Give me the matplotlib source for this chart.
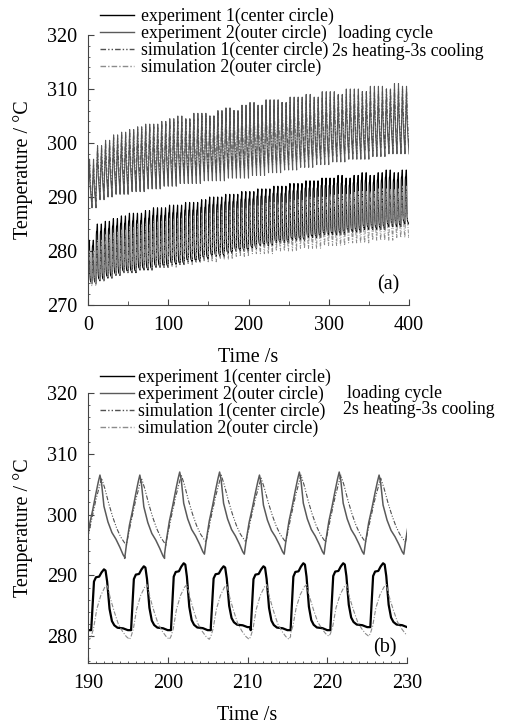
import numpy as np
import matplotlib.pyplot as plt
from matplotlib.ticker import MultipleLocator

plt.rcParams['font.family'] = ['Liberation Serif', 'DejaVu Serif']

# legend labels
labels = ['experiment 1(center circle)', 'experiment 2(outer circle)',
          'simulation 1(center circle)', 'simulation 2(outer circle)']
note_1 = 'loading cycle'
note_2 = '2s heating-3s cooling'

period = 5.0

# one loading cycle: time inside cycle [s] and
# fraction of the way from trough to peak
exp1_phase = [0.0, 0.15, 0.35, 0.6, 1.0, 1.3, 1.6, 1.8, 2.0, 2.3, 2.6, 2.9, 3.3, 4.0, 4.6, 5.0]
exp1_frac = [0.0, 0.35, 0.8, 0.87, 0.88, 0.95, 1.0, 0.98, 0.8, 0.35, 0.15, 0.08, 0.04, 0.03, 0.0, 0.0]
exp2_phase = [0.0, 0.2, 0.6, 1.0, 1.4, 1.7, 1.9, 2.1, 2.4, 2.9, 3.4, 3.9, 4.4, 4.8, 5.0]
exp2_frac = [0.0, 0.15, 0.4, 0.58, 0.78, 0.92, 1.0, 0.9, 0.62, 0.43, 0.3, 0.22, 0.12, 0.03, 0.0]
sim1_phase = [0.0, 0.6, 1.2, 1.9, 2.3, 2.8, 3.3, 3.8, 4.3, 4.8, 5.0]
sim1_frac = [0.0, 0.35, 0.68, 1.0, 0.85, 0.62, 0.42, 0.25, 0.12, 0.03, 0.0]
sim2_phase = [0.0, 0.3, 0.7, 1.2, 1.7, 2.0, 2.4, 2.9, 3.4, 3.9, 4.4, 4.8, 5.0]
sim2_frac = [0.05, 0.2, 0.55, 0.8, 0.95, 1.0, 0.75, 0.5, 0.28, 0.15, 0.05, 0.0, 0.05]

# panel (a): peaks / troughs per 10 s block (two cycles each), 0-400 s
a_exp1_peak = [282, 285, 285.5, 286, 286.5, 287, 287, 287.5, 288, 288,
               288.5, 288.5, 289, 289, 289.5, 290, 290, 290.5, 290.5, 291,
               291, 291.5, 291.5, 292, 292, 292.5, 292.5, 293, 293, 293.5,
               293.5, 294, 293.5, 294, 294.5, 294, 294.5, 295, 294.5, 295]
a_exp1_trough = [274, 274.5, 275, 275.5, 276, 276, 276.5, 276.5, 277, 277,
                 277.5, 277.5, 278, 278, 278.5, 279, 279, 279.5, 280, 280,
                 280.5, 281, 281, 281.5, 281.5, 282, 282, 282.5, 282.5, 283,
                 283, 283, 283.5, 283.5, 284, 284, 284, 284.5, 284.5, 285]
a_exp2_peak = [297, 299.5, 300.5, 301.5, 302, 302.5, 303, 303.5, 303.5, 304,
               304.5, 305, 304.5, 305.5, 305.5, 305, 306, 306.5, 306, 307,
               307.5, 307, 308, 308, 307.5, 308.5, 308.5, 309, 308.5, 309.5,
               309.5, 309, 310, 310, 309.5, 310.5, 310.5, 310, 311, 310.5]
a_exp2_trough = [288, 289.5, 290, 290.5, 290.5, 291, 291, 291.5, 291.5, 292,
                 292, 292.5, 292.5, 292.5, 293, 293, 293, 293.5, 293.5, 293.5,
                 294, 294, 294.5, 294.5, 295, 295, 295.5, 295.5, 296, 296,
                 296.5, 296.5, 297, 297, 297, 297.5, 297.5, 298, 298, 298]
a_sim1_peak = [296, 299, 300, 301, 301.5, 302, 302.5, 303, 303, 303.5,
               304, 304, 304.5, 304.5, 305, 305, 305.5, 305.5, 306, 306,
               306.5, 306.5, 307, 307, 307.5, 307.5, 308, 308, 308, 308.5,
               308.5, 309, 309, 309, 309.5, 309.5, 309.5, 310, 310, 310]
a_sim1_trough = [289, 291, 291.5, 292, 292.5, 292.5, 293, 293, 293.5, 293.5,
                 293.5, 294, 294, 294, 294.5, 294.5, 294.5, 295, 295, 295,
                 295.5, 295.5, 296, 296, 296, 296.5, 296.5, 297, 297, 297.5,
                 297.5, 298, 298, 298, 298.5, 298.5, 299, 299, 299, 299.5]
a_sim2_peak = [280, 282, 283, 283.5, 284, 284.5, 285, 285, 285.5, 285.5,
               286, 286, 286.5, 286.5, 287, 287, 287.5, 287.5, 288, 288,
               288.5, 288.5, 289, 289, 289, 289.5, 289.5, 290, 290, 290,
               290.5, 290.5, 290.5, 291, 291, 291, 291.5, 291.5, 291.5, 292]
a_sim2_trough = [273.5, 274.5, 275, 275.5, 276, 276, 276.5, 276.5, 277, 277,
                 277, 277.5, 277.5, 278, 278, 278, 278.5, 278.5, 279, 279,
                 279.5, 279.5, 279.5, 280, 280, 280, 280.5, 280.5, 280.5, 281,
                 281, 281, 281.5, 281.5, 281.5, 282, 282, 282, 282.5, 282.5]

# panel (b): first cycle start [s] and per-cycle peaks / troughs, 190-230 s
b_exp1_start = 185.4
b_exp1_peak = [290.5, 291, 291.5, 292, 291.5, 291.5, 292, 292, 292]
b_exp1_trough = [281, 281, 281, 281, 281.5, 281, 281, 281.5, 281.5]
b_exp2_start = 184.6
b_exp2_peak = [306, 306.5, 306.5, 307, 307, 306.5, 307, 307, 306.5, 306.5]
b_exp2_trough = [293, 293, 292.8, 293.5, 293.5, 293.5, 293.5, 293.5, 293.5, 293.5]
b_sim1_start = 184.8
b_sim1_peak = [305.5, 306, 306, 306.5, 306.5, 306, 306.5, 306.5, 306, 306]
b_sim1_trough = [295, 295, 295, 295.5, 295.5, 295.5, 295.5, 295.5, 295.5, 295.5]
b_sim2_start = 185.4
b_sim2_peak = [288, 288.5, 288.5, 288.5, 288.5, 288.5, 288.5, 288.5, 288.5]
b_sim2_trough = [279.5, 279.5, 279.5, 279.5, 279.5, 279.5, 280, 280, 280]


def build(start, phase, frac, peaks, troughs):
    phase = np.asarray(phase)
    frac = np.asarray(frac)
    t, T = [], []
    for k, (pk, tr) in enumerate(zip(peaks, troughs)):
        t.append(start + k * period + phase)
        T.append(tr + frac * (pk - tr))
    return np.concatenate(t), np.concatenate(T)


styles = [dict(color='black', ls='-'),
          dict(color='#5a5a5a', ls='-'),
          dict(color='#505050', ls=(0, (4, 1.5, 1, 1.5, 1, 1.5))),
          dict(color='#8c8c8c', ls=(0, (4, 1.5, 1, 1.5)))]


def style_axes(ax):
    for s in ['top', 'right']:
        ax.spines[s].set_visible(False)
    for s in ['left', 'bottom']:
        ax.spines[s].set_color('#444444')
        ax.spines[s].set_linewidth(0.8)
    ax.tick_params(which='both', direction='in', labelsize=14.5, pad=8, color='#444444')
    ax.tick_params(which='major', length=4, width=0.8)
    ax.tick_params(which='minor', length=1.5, width=0.6)
    ax.yaxis.set_major_locator(MultipleLocator(10))
    ax.yaxis.set_minor_locator(MultipleLocator(2))
    ax.set_xlabel('Time /s', fontsize=14.5, labelpad=9)
    ax.set_ylabel('Temperature / °C', fontsize=14.5, labelpad=10)


def add_legend(ax, handles, top_px, pad):
    ax.legend(handles=handles, loc='upper left', bbox_to_anchor=(100 / 507, 1 - top_px / 726),
              bbox_transform=fig.transFigure, frameon=False, fontsize=12.8,
              borderpad=0, borderaxespad=0, handlelength=1.9, handletextpad=pad,
              labelspacing=-0.02)


fig = plt.figure(figsize=(5.07, 7.26), dpi=100)
ax_a = fig.add_axes([88 / 507, 1 - 305 / 726, 321 / 507, 270 / 726])
ax_b = fig.add_axes([88 / 507, 1 - 663 / 726, 319 / 507, 270 / 726])

# panel (a)
series_a = [(exp1_phase, exp1_frac, a_exp1_peak, a_exp1_trough, 0.8),
            (exp2_phase, exp2_frac, a_exp2_peak, a_exp2_trough, 0.8),
            (sim1_phase, sim1_frac, a_sim1_peak, a_sim1_trough, 0.8),
            (sim2_phase, sim2_frac, a_sim2_peak, a_sim2_trough, 0.7)]
handles = []
for (ph, fr, pk, tr, lw), st, lab in zip(series_a, styles, labels):
    t, T = build(0.0, ph, fr, np.repeat(pk, 2), np.repeat(tr, 2))
    ax_a.plot(t, T, lw=lw, **st)
    h, = ax_a.plot([], [], lw=1.0, label=lab, **st)
    handles.append(h)

ax_a.set_xlim(0, 400)
ax_a.set_ylim(270, 320)
ax_a.xaxis.set_major_locator(MultipleLocator(100))
ax_a.xaxis.set_minor_locator(MultipleLocator(50))
style_axes(ax_a)
ax_a.tick_params(axis='x', which='minor', length=3)
ax_a.text(0.935, 0.074, '(a)', transform=ax_a.transAxes, fontsize=14.5,
          ha='center', va='center')
add_legend(ax_a, handles, 8, 0.4)
fig.text(338 / 507, 1 - 34 / 726, note_1, fontsize=12.8, va='center')
fig.text(332 / 507, 1 - 51 / 726, note_2, fontsize=12.8, va='center')

# panel (b)
series_b = [(b_exp1_start, exp1_phase, exp1_frac, b_exp1_peak, b_exp1_trough, 1.6),
            (b_exp2_start, exp2_phase, exp2_frac, b_exp2_peak, b_exp2_trough, 1.1),
            (b_sim1_start, sim1_phase, sim1_frac, b_sim1_peak, b_sim1_trough, 0.8),
            (b_sim2_start, sim2_phase, sim2_frac, b_sim2_peak, b_sim2_trough, 0.8)]
handles = []
for (s0, ph, fr, pk, tr, lw), st, lab in zip(series_b, styles, labels):
    t, T = build(s0, ph, fr, pk, tr)
    ax_b.plot(t, T, lw=lw, **st)
    h, = ax_b.plot([], [], lw=1.0, label=lab, **st)
    handles.append(h)

ax_b.set_xlim(190, 230)
ax_b.set_ylim(275.6, 320)
ax_b.xaxis.set_major_locator(MultipleLocator(10))
ax_b.xaxis.set_minor_locator(MultipleLocator(1))
style_axes(ax_b)
ax_b.text(0.931, 0.056, '(b)', transform=ax_b.transAxes, fontsize=14.5,
          ha='center', va='center')
add_legend(ax_b, handles, 369, 0.25)
fig.text(347 / 507, 1 - 393 / 726, note_1, fontsize=12.8, va='center')
fig.text(343 / 507, 1 - 409 / 726, note_2, fontsize=12.8, va='center')

fig.savefig('out.png', dpi=100)
